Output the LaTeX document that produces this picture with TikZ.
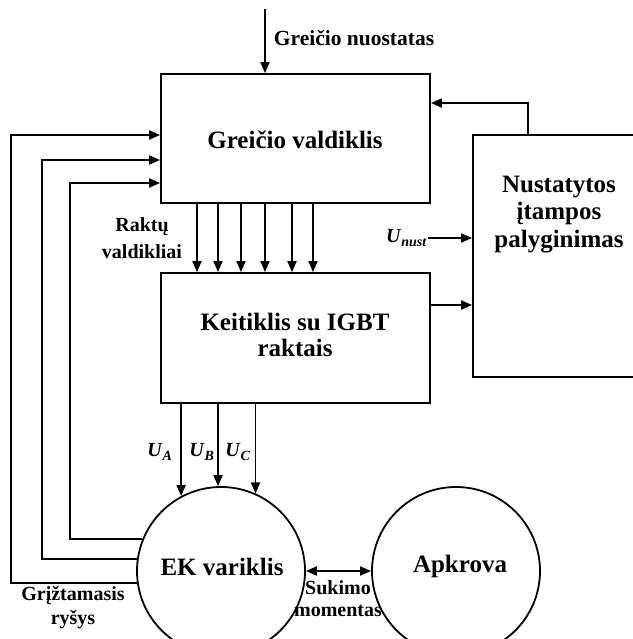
\documentclass[tikz,border=0pt]{standalone}
\usepackage{fontspec}
\setmainfont{Liberation Serif}
\usetikzlibrary{arrows.meta,calc}
\begin{document}
\begin{tikzpicture}[x=1pt,y=-1pt,line width=1.8pt,
  tip/.tip={Triangle[length=11pt,width=9pt]},
  arr/.style={-tip},
  darr/.style={tip-tip},
  blk/.style={draw,rectangle,inner sep=0pt},
  circ/.style={draw,circle,inner sep=0pt,minimum size=168pt},
  big/.style={font=\fontsize{25}{27}\selectfont\bfseries,align=center,inner sep=0pt},
  small/.style={font=\fontsize{20}{25}\selectfont\bfseries,align=center,inner sep=0pt},
]
\useasboundingbox (0,0) rectangle (632,639);

% blocks
\node[blk,minimum width=269pt,minimum height=129pt] (gv) at (295.5,138.5) {};
\node[big] (gvt) at (295,140) {Greičio valdiklis};
\node[blk,minimum width=269pt,minimum height=130pt] (kt) at (295.5,338) {};
\node[big,font=\fontsize{25}{26}\selectfont\bfseries] (ktt) at (295,335) {Keitiklis su IGBT\\raktais};
\node[blk,minimum width=167pt,minimum height=242pt] (rb) at (556.5,256) {};
\node[big,font=\fontsize{25}{27.5}\selectfont\bfseries] (rbt) at (559,214.5) {Nustatytos\\įtampos\\palyginimas};
\node[circ] (ek) at (221,571) {};
\node[big] (ekt) at (222,567) {EK variklis};
\node[circ] (ap) at (456,571) {};
\node[big] (apt) at (460,566) {Apkrova};

% labels
\node[small,font=\fontsize{21.5}{25}\selectfont\bfseries,anchor=west] (gn) at (273,38) {Greičio nuostatas};
\node[small,font=\fontsize{20}{27}\selectfont\bfseries] (rv) at (142,238.5) {Raktų\\valdikliai};
\node[small,font=\fontsize{20}{22}\selectfont\bfseries] (sm) at (338,599) {Sukimo\\momentas};
\node[small,font=\fontsize{20}{24}\selectfont\bfseries] (gr) at (73,608) {Grįžtamasis\\ryšys};
\node[small,anchor=east] (un) at (428,238) {\textit{U}\textsubscript{\textit{nust}}};
\node[small] (ua) at (160,452) {\textit{U}\textsubscript{\textit{A}}};
\node[small] (ub) at (202,452) {\textit{U}\textsubscript{\textit{B}}};
\node[small] (uc) at (238,452) {\textit{U}\textsubscript{\textit{C}}};

% helper coordinates
\coordinate (top) at (265,9);
\coordinate (y103) at (0,103);
\coordinate (x528) at (528,0);
\coordinate (y305) at (0,305);
\coordinate (fx1) at (11,0);
\coordinate (fx2) at (42,0);
\coordinate (fx3) at (70,0);
\coordinate (fy1) at (0,135);
\coordinate (fy2) at (0,160);
\coordinate (fy3) at (0,183);

% connectors
\draw[arr] (top) -- (top |- gv.north);
\draw[arr] (rb.north -| x528) |- (gv.east |- y103);
\draw[arr] (un.east) -- (rb.west |- un.east);
\draw[arr] (kt.east |- y305) -- (rb.west |- y305);
\foreach \xx in {197,218,241,265,292,313}{
  \coordinate (c\xx) at (\xx,0);
  \draw[arr] (gv.south -| c\xx) -- (kt.north -| c\xx);
}
\foreach \a in {118,92,66}{
  \draw[arr] (kt.south -| ek.\a) -- (ek.\a);
}
\draw[darr] (ek.east) -- (ap.west);
\draw[arr] (ek.188) -- (ek.188 -| fx1) |- (gv.west |- fy1);
\draw[arr] (ek.172) -- (ek.172 -| fx2) |- (gv.west |- fy2);
\draw[arr] (ek.158) -- (ek.158 -| fx3) |- (gv.west |- fy3);
\end{tikzpicture}
\end{document}
